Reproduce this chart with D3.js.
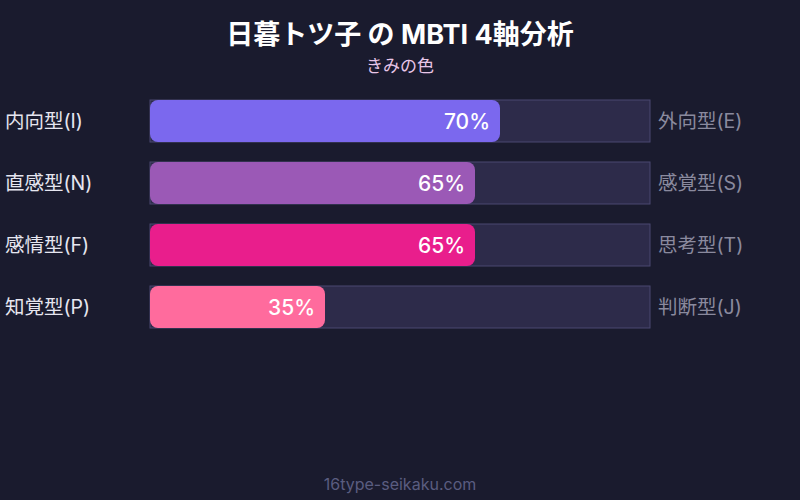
<!DOCTYPE html>
<html>
<head>
<meta charset="utf-8">
<script src="https://cdn.jsdelivr.net/npm/d3@7"></script>
<style>
  body { margin: 0; background: #1a1b2e; }
  text { font-family: Inter, "Noto Sans CJK JP", sans-serif; }
</style>
</head>
<body>
<div id="chart"></div>
<script>
// データ
const leftLabels = ["内向型(I)", "直感型(N)", "感情型(F)", "知覚型(P)"];
const rightLabels = ["外向型(E)", "感覚型(S)", "思考型(T)", "判断型(J)"];
const values = [70, 65, 65, 35];
const barColors = ["#7b68ee", "#9b59b6", "#e91e8c", "#ff6b9d"];

const width = 800, height = 500;
const svg = d3.select("#chart").append("svg")
    .attr("width", width)
    .attr("height", height);

svg.append("rect")
    .attr("width", width)
    .attr("height", height)
    .attr("fill", "#1a1b2e");

// タイトル
svg.append("text")
    .attr("x", width / 2)
    .attr("y", 44)
    .attr("text-anchor", "middle")
    .attr("fill", "#ffffff")
    .attr("font-size", 27)
    .attr("font-weight", "bold")
    .text("日暮トツ子 の MBTI 4軸分析");

svg.append("text")
    .attr("x", width / 2)
    .attr("y", 72)
    .attr("text-anchor", "middle")
    .attr("fill", "#e8c6e8")
    .attr("font-size", 17)
    .text("きみの色");

// スケール
const x = d3.scaleLinear().domain([0, 100]).range([150, 650]);
const y = d3.scaleBand()
    .domain(d3.range(values.length))
    .range([100, 328])
    .paddingInner(20 / 62)
    .paddingOuter(0);

const rows = svg.selectAll("g.row")
    .data(values)
    .join("g")
    .attr("class", "row");

// 背景トラック
rows.append("rect")
    .attr("x", x(0))
    .attr("y", (d, i) => y(i))
    .attr("width", x(100) - x(0))
    .attr("height", y.bandwidth())
    .attr("fill", "#2d2b4a")
    .attr("stroke", "#4a4870")
    .attr("stroke-width", 1);

// バー
rows.append("rect")
    .attr("x", x(0))
    .attr("y", (d, i) => y(i))
    .attr("width", d => x(d) - x(0))
    .attr("height", y.bandwidth())
    .attr("rx", 8)
    .attr("ry", 8)
    .attr("fill", (d, i) => barColors[i]);

// 値ラベル
rows.append("text")
    .attr("x", d => x(d) - 10)
    .attr("y", (d, i) => y(i) + y.bandwidth() / 2)
    .attr("dy", "0.36em")
    .attr("text-anchor", "end")
    .attr("fill", "#ffffff")
    .attr("font-size", 21)
    .attr("font-weight", 500)
    .text(d => d + "%");

// 左ラベル
rows.append("text")
    .attr("x", 5)
    .attr("y", (d, i) => y(i) + y.bandwidth() / 2)
    .attr("dy", "0.36em")
    .attr("fill", "#e6e6f0")
    .attr("font-size", 19.5)
    .text((d, i) => leftLabels[i]);

// 右ラベル
rows.append("text")
    .attr("x", 658)
    .attr("y", (d, i) => y(i) + y.bandwidth() / 2)
    .attr("dy", "0.36em")
    .attr("fill", "#8a8a9e")
    .attr("font-size", 19.5)
    .text((d, i) => rightLabels[i]);

// フッター
svg.append("text")
    .attr("x", width / 2)
    .attr("y", 490)
    .attr("text-anchor", "middle")
    .attr("fill", "#5a5d80")
    .attr("font-size", 16)
    .text("16type-seikaku.com");
</script>
</body>
</html>
